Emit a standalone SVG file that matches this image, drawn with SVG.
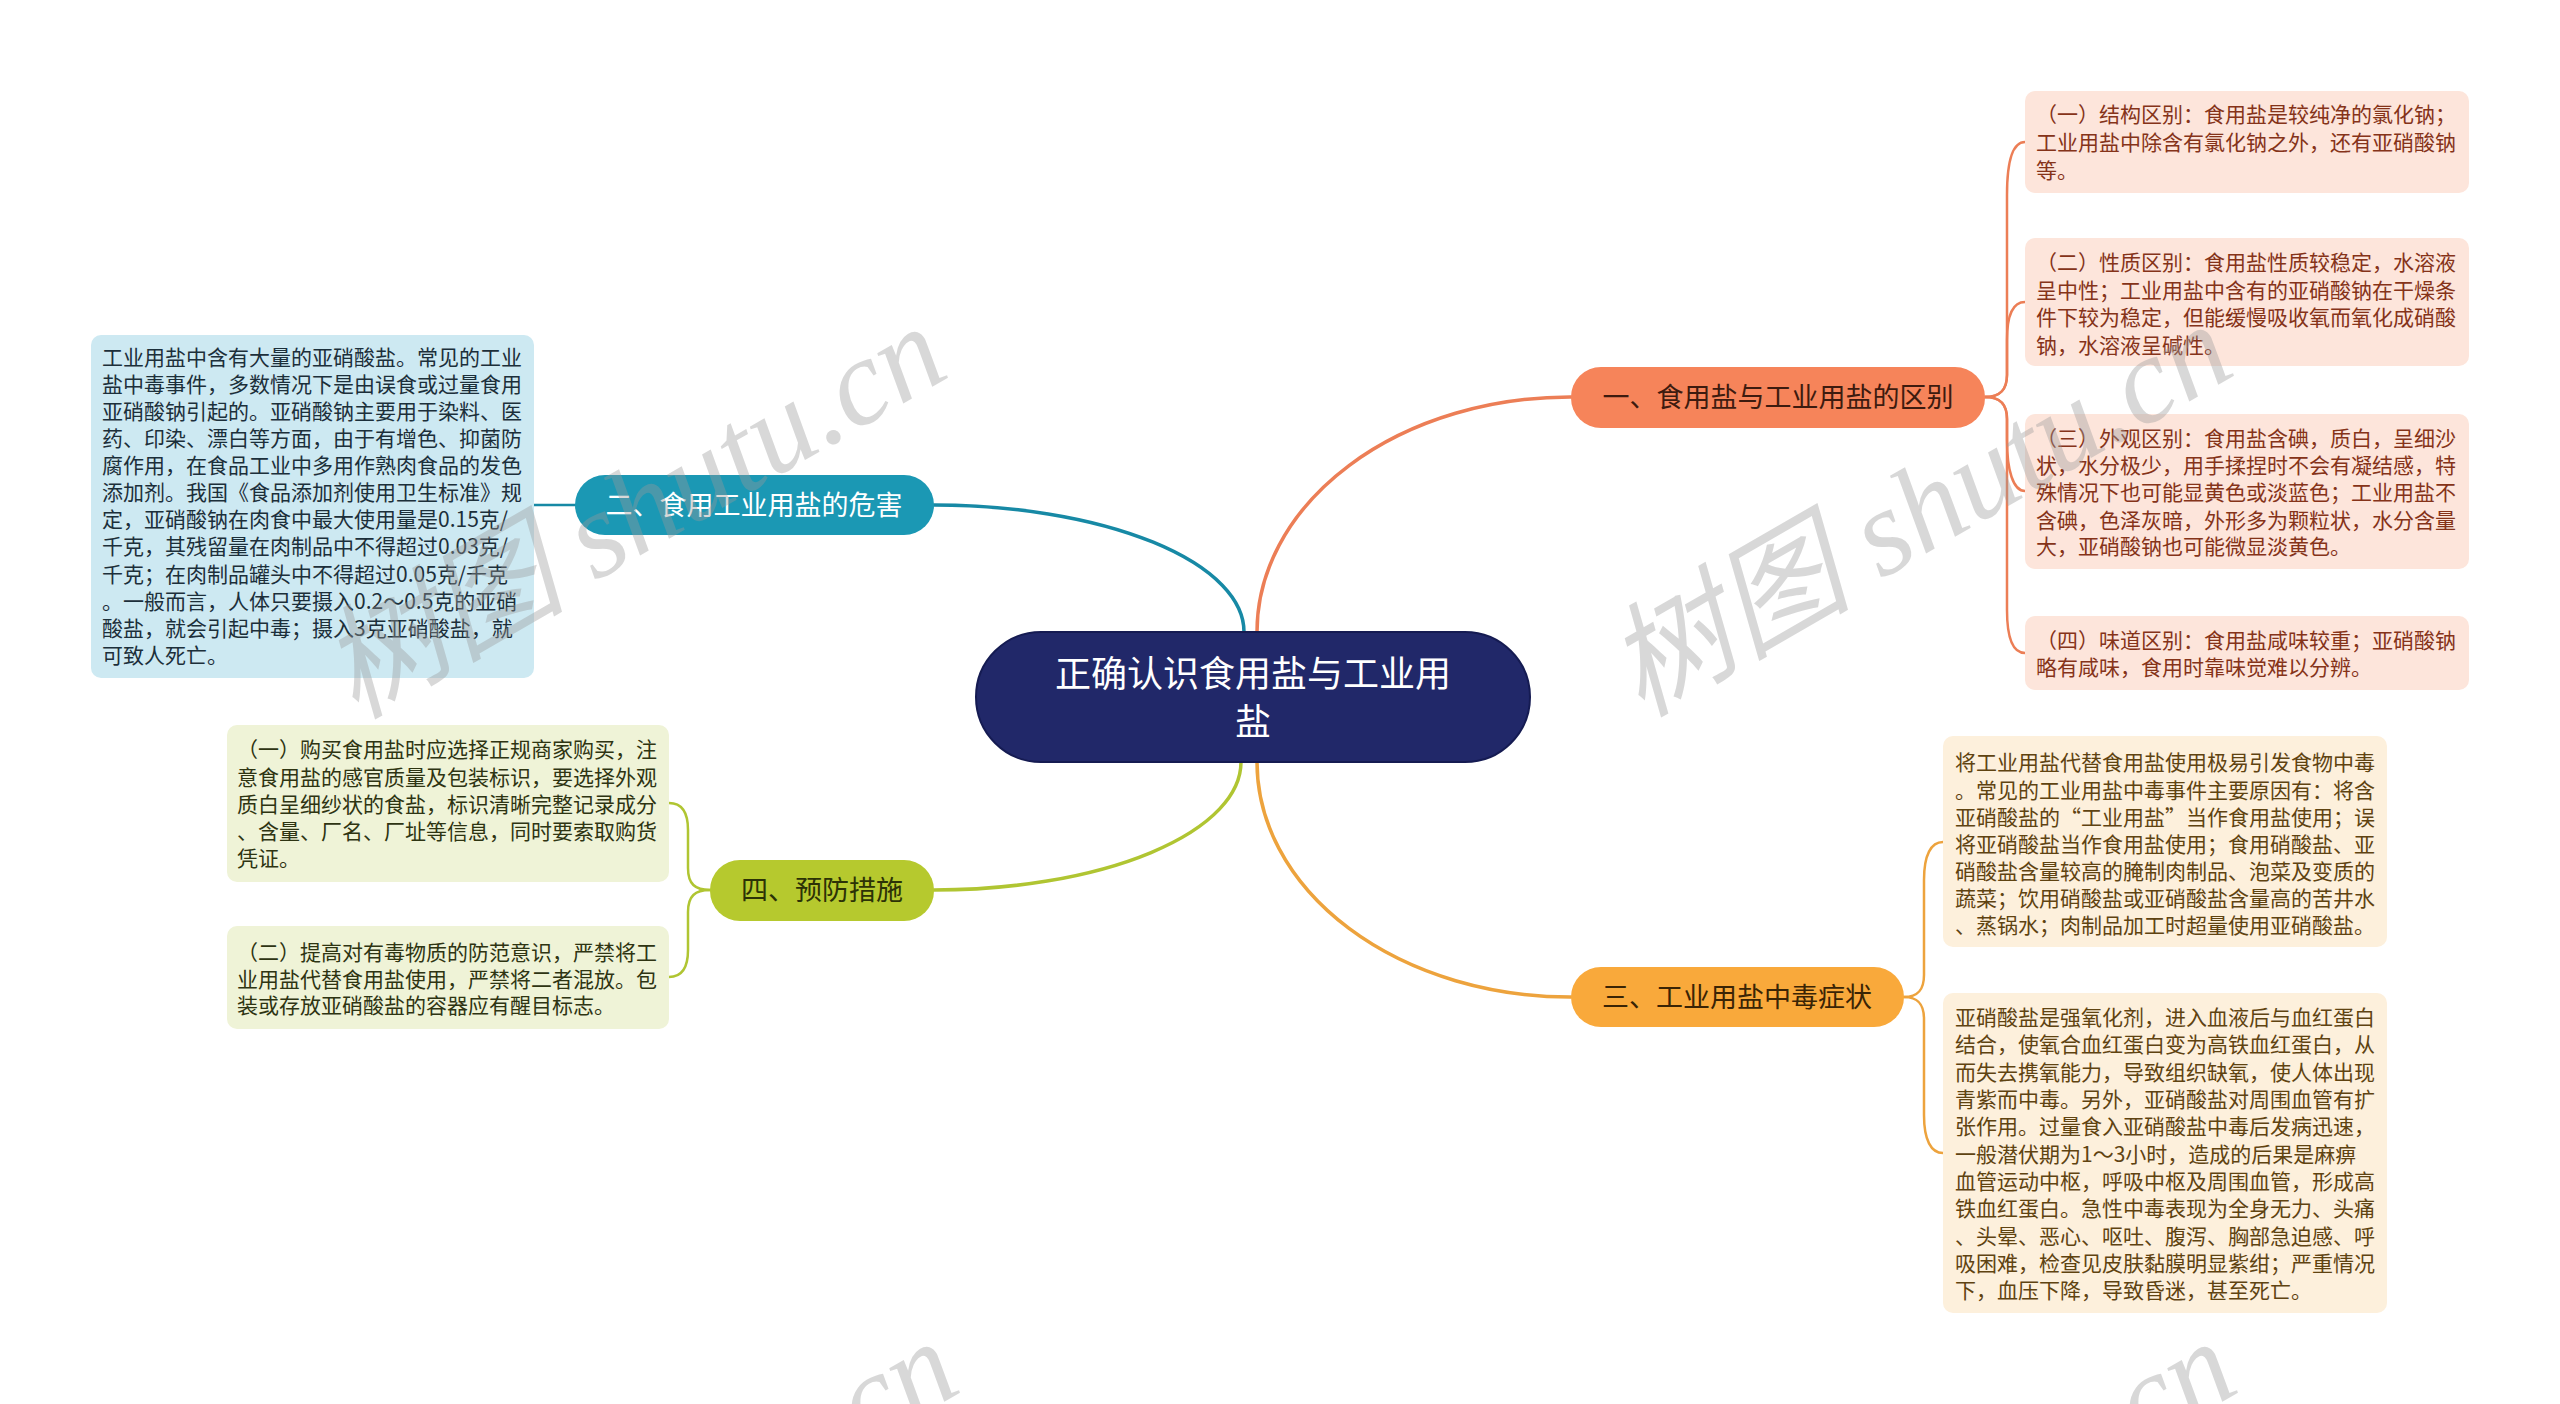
<svg xmlns="http://www.w3.org/2000/svg" width="2560" height="1404" viewBox="0 0 2560 1404">
<style>
text{font-family:"Noto Sans CJK SC","Liberation Sans",sans-serif;}
.wm{font-family:"Liberation Serif","Noto Sans CJK SC",serif;font-style:italic;font-size:123px;fill:#9a9a9a;opacity:0.38;}
.c{fill:none;stroke-linecap:round;}
.m{stroke-width:3.5;}
.s{stroke-width:2.5;}
.lt{font-size:21px;}
.br{font-size:27px;text-anchor:middle;}
.pe rect{fill:#fde5db;} .pe text{fill:#853319;}
.cr rect{fill:#fdf0dc;} .cr text{fill:#5f4311;}
.bl rect{fill:#cde9f2;} .bl text{fill:#1c2f3a;}
.ol rect{fill:#eff3d7;} .ol text{fill:#2e3412;}
</style>
<rect width="2560" height="1404" fill="#ffffff"/>
<g id="connectors">
<path class="c m" stroke="#ec7e56" d="M 1257 632 A 313 235 0 0 1 1571 397"/>
<path class="c m" stroke="#1789a5" d="M 1244 632 A 310 127 0 0 0 934 505"/>
<path class="c m" stroke="#eda33d" d="M 1257 762 A 313 235 0 0 0 1571 997"/>
<path class="c m" stroke="#b0c532" d="M 1241 762 A 307 128 0 0 1 934 890"/>
<path class="c s" stroke="#ec7e56" d="M 1985 397 C 2000 397 2007 390 2007 375 L 2007 195 C 2007 160 2013 142 2025 142"/>
<path class="c s" stroke="#ec7e56" d="M 1985 397 C 2000 397 2007 390 2007 375 L 2007 340 C 2007 315 2013 302 2025 302"/>
<path class="c s" stroke="#ec7e56" d="M 1985 397 C 2000 397 2007 404 2007 419 L 2007 440 C 2007 470 2013 491 2025 491"/>
<path class="c s" stroke="#ec7e56" d="M 1985 397 C 2000 397 2007 404 2007 419 L 2007 610 C 2007 638 2013 653 2025 653"/>
<path class="c s" stroke="#1789a5" d="M 534 505 L 575 505"/>
<path class="c s" stroke="#eda33d" d="M 1904 997 C 1918 997 1924 990 1924 975 L 1924 880 C 1924 855 1931 842 1943 842"/>
<path class="c s" stroke="#eda33d" d="M 1904 997 C 1918 997 1924 1004 1924 1019 L 1924 1115 C 1924 1140 1931 1153 1943 1153"/>
<path class="c s" stroke="#b0c532" d="M 710 890 C 695 890 688 884 688 868 L 688 830 C 688 812 682 803 669 803"/>
<path class="c s" stroke="#b0c532" d="M 710 890 C 695 890 688 896 688 912 L 688 950 C 688 968 682 977 669 977"/>
</g>
<g id="center">
<rect x="976" y="632" width="554" height="130" rx="65" fill="#212869" stroke="#151b52" stroke-width="2"/>
<text x="1253" y="687" font-size="36" fill="#ffffff" text-anchor="middle">正确认识食用盐与工业用</text>
<text x="1253" y="735" font-size="36" fill="#ffffff" text-anchor="middle">盐</text>
</g>
<g id="b1">
<rect x="1571" y="367" width="414" height="61" rx="30" fill="#f6845a"/>
<text class="br" x="1778" y="407" fill="#3d1b0f">一、食用盐与工业用盐的区别</text>
</g>
<g id="b2">
<rect x="575" y="475" width="359" height="60" rx="30" fill="#1b98b4"/>
<text class="br" x="754" y="515" fill="#ffffff">二、食用工业用盐的危害</text>
</g>
<g id="b3">
<rect x="1571" y="967" width="333" height="60" rx="30" fill="#f9a93b"/>
<text class="br" x="1737" y="1007" fill="#3a2405">三、工业用盐中毒症状</text>
</g>
<g id="b4">
<rect x="710" y="860" width="224" height="61" rx="30" fill="#b6c92e"/>
<text class="br" x="822" y="900" fill="#2c3206">四、预防措施</text>
</g>
<g id="l1" class="pe lt">
<rect x="2025" y="91" width="444" height="102" rx="10"/>
<text x="2036" y="122">（一）结构区别：食用盐是较纯净的氯化钠；</text>
<text x="2036" y="150">工业用盐中除含有氯化钠之外，还有亚硝酸钠</text>
<text x="2036" y="178">等。</text>
</g>
<g id="l2" class="pe lt">
<rect x="2025" y="238" width="444" height="128" rx="10"/>
<text x="2036" y="270">（二）性质区别：食用盐性质较稳定，水溶液</text>
<text x="2036" y="298">呈中性；工业用盐中含有的亚硝酸钠在干燥条</text>
<text x="2036" y="325">件下较为稳定，但能缓慢吸收氧而氧化成硝酸</text>
<text x="2036" y="353">钠，水溶液呈碱性。</text>
</g>
<g id="l3" class="pe lt">
<rect x="2025" y="414" width="444" height="155" rx="10"/>
<text x="2036" y="446">（三）外观区别：食用盐含碘，质白，呈细沙</text>
<text x="2036" y="473">状，水分极少，用手揉捏时不会有凝结感，特</text>
<text x="2036" y="500">殊情况下也可能显黄色或淡蓝色；工业用盐不</text>
<text x="2036" y="528">含碘，色泽灰暗，外形多为颗粒状，水分含量</text>
<text x="2036" y="554">大，亚硝酸钠也可能微显淡黄色。</text>
</g>
<g id="l4" class="pe lt">
<rect x="2025" y="616" width="444" height="74" rx="10"/>
<text x="2036" y="648">（四）味道区别：食用盐咸味较重；亚硝酸钠</text>
<text x="2036" y="675">略有咸味，食用时靠味觉难以分辨。</text>
</g>
<g id="l5" class="cr lt">
<rect x="1943" y="736" width="444" height="211" rx="10"/>
<text x="1955" y="770">将工业用盐代替食用盐使用极易引发食物中毒</text>
<text x="1955" y="798">。常见的工业用盐中毒事件主要原因有：将含</text>
<text x="1955" y="825">亚硝酸盐的“工业用盐”当作食用盐使用；误</text>
<text x="1955" y="852">将亚硝酸盐当作食用盐使用；食用硝酸盐、亚</text>
<text x="1955" y="879">硝酸盐含量较高的腌制肉制品、泡菜及变质的</text>
<text x="1955" y="906">蔬菜；饮用硝酸盐或亚硝酸盐含量高的苦井水</text>
<text x="1955" y="933">、蒸锅水；肉制品加工时超量使用亚硝酸盐。</text>
</g>
<g id="l6" class="cr lt">
<rect x="1943" y="993" width="444" height="320" rx="10"/>
<text x="1955" y="1025">亚硝酸盐是强氧化剂，进入血液后与血红蛋白</text>
<text x="1955" y="1052">结合，使氧合血红蛋白变为高铁血红蛋白，从</text>
<text x="1955" y="1080">而失去携氧能力，导致组织缺氧，使人体出现</text>
<text x="1955" y="1107">青紫而中毒。另外，亚硝酸盐对周围血管有扩</text>
<text x="1955" y="1134">张作用。过量食入亚硝酸盐中毒后发病迅速，</text>
<text x="1955" y="1162">一般潜伏期为1～3小时，造成的后果是麻痹</text>
<text x="1955" y="1189">血管运动中枢，呼吸中枢及周围血管，形成高</text>
<text x="1955" y="1216">铁血红蛋白。急性中毒表现为全身无力、头痛</text>
<text x="1955" y="1244">、头晕、恶心、呕吐、腹泻、胸部急迫感、呼</text>
<text x="1955" y="1271">吸困难，检查见皮肤黏膜明显紫绀；严重情况</text>
<text x="1955" y="1298">下，血压下降，导致昏迷，甚至死亡。</text>
</g>
<g id="l7" class="bl lt">
<rect x="91" y="335" width="443" height="343" rx="10"/>
<text x="102" y="365">工业用盐中含有大量的亚硝酸盐。常见的工业</text>
<text x="102" y="392">盐中毒事件，多数情况下是由误食或过量食用</text>
<text x="102" y="419">亚硝酸钠引起的。亚硝酸钠主要用于染料、医</text>
<text x="102" y="446">药、印染、漂白等方面，由于有增色、抑菌防</text>
<text x="102" y="473">腐作用，在食品工业中多用作熟肉食品的发色</text>
<text x="102" y="500">添加剂。我国《食品添加剂使用卫生标准》规</text>
<text x="102" y="527">定，亚硝酸钠在肉食中最大使用量是0.15克/</text>
<text x="102" y="554">千克，其残留量在肉制品中不得超过0.03克/</text>
<text x="102" y="582">千克；在肉制品罐头中不得超过0.05克/千克</text>
<text x="102" y="609">。一般而言，人体只要摄入0.2～0.5克的亚硝</text>
<text x="102" y="636">酸盐，就会引起中毒；摄入3克亚硝酸盐，就</text>
<text x="102" y="663">可致人死亡。</text>
</g>
<g id="l8" class="ol lt">
<rect x="227" y="725" width="442" height="157" rx="10"/>
<text x="237" y="757">（一）购买食用盐时应选择正规商家购买，注</text>
<text x="237" y="785">意食用盐的感官质量及包装标识，要选择外观</text>
<text x="237" y="812">质白呈细纱状的食盐，标识清晰完整记录成分</text>
<text x="237" y="839">、含量、厂名、厂址等信息，同时要索取购货</text>
<text x="237" y="866">凭证。</text>
</g>
<g id="l9" class="ol lt">
<rect x="227" y="926" width="442" height="103" rx="10"/>
<text x="237" y="960">（二）提高对有毒物质的防范意识，严禁将工</text>
<text x="237" y="987">业用盐代替食用盐使用，严禁将二者混放。包</text>
<text x="237" y="1013">装或存放亚硝酸盐的容器应有醒目标志。</text>
</g>
<g id="watermarks">
<text class="wm" transform="translate(355 720) rotate(-30)">树图 shutu.cn</text>
<text class="wm" transform="translate(1641 718) rotate(-30)">树图 shutu.cn</text>
<text class="wm" transform="translate(367 1735) rotate(-30)">树图 shutu.cn</text>
<text class="wm" transform="translate(1645 1735) rotate(-30)">树图 shutu.cn</text>
</g>
</svg>
